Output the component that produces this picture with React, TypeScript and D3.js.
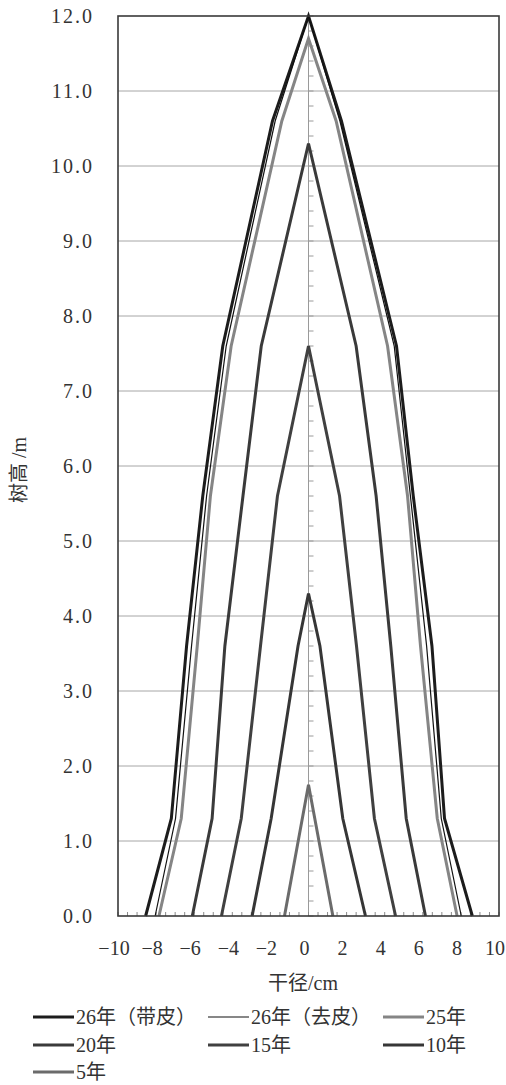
import React from "react";
import * as d3 from "d3";

const seriesNames = ["26年（带皮）", "26年（去皮）", "25年", "20年", "15年", "10年", "5年"];

const h26b = [0, 1.3, 3.6, 5.6, 7.6, 10.6, 12.0, 10.6, 7.6, 5.6, 3.6, 1.3, 0];
const d26b = [-8.55, -7.2, -6.4, -5.55, -4.5, -1.89, 0, 1.73, 4.62, 5.5, 6.48, 7.14, 8.6];

const h26q = [0, 1.3, 3.6, 5.6, 7.6, 10.6, 12.0, 10.6, 7.6, 5.6, 3.6, 1.3, 0];
const d26q = [-8.05, -6.98, -6.14, -5.35, -4.32, -1.75, 0, 1.65, 4.5, 5.35, 6.2, 6.97, 8.02];

const h25 = [0, 1.3, 3.6, 5.6, 7.6, 10.6, 11.7, 10.6, 7.6, 5.6, 3.6, 1.3, 0];
const d25 = [-7.85, -6.68, -5.84, -5.15, -4.06, -1.4, 0, 1.45, 4.15, 5.2, 5.88, 6.76, 7.8];

const h20 = [0, 1.3, 3.6, 5.6, 7.6, 10.3, 7.6, 5.6, 3.6, 1.3, 0];
const d20 = [-6.1, -5.06, -4.39, -3.44, -2.48, 0, 2.5, 3.55, 4.32, 5.13, 6.14];

const h15 = [0, 1.3, 3.6, 5.6, 7.6, 5.6, 3.6, 1.3, 0];
const d15 = [-4.57, -3.53, -2.52, -1.63, 0, 1.63, 2.52, 3.46, 4.57];

const h10 = [0, 1.3, 3.6, 4.3, 3.6, 1.3, 0];
const d10 = [-2.96, -1.96, -0.55, 0, 0.6, 1.8, 2.99];

const h5 = [0, 1.75, 0];
const d5 = [-1.26, 0, 1.28];

const yTicks = [0, 1, 2, 3, 4, 5, 6, 7, 8, 9, 10, 11, 12];
const xTicks = [-10, -8, -6, -4, -2, 0, 2, 4, 6, 8, 10];

const seriesData = [
  { xs: d26b, ys: h26b, color: "#1c1c1c", width: 3 },
  { xs: d26q, ys: h26q, color: "#111111", width: 1.2 },
  { xs: d25, ys: h25, color: "#858585", width: 3 },
  { xs: d20, ys: h20, color: "#3a3a3a", width: 3 },
  { xs: d15, ys: h15, color: "#404040", width: 3 },
  { xs: d10, ys: h10, color: "#363636", width: 3 },
  { xs: d5, ys: h5, color: "#6b6b6b", width: 3 },
];

const W = 506;
const H = 1085;
const L = 118;
const R = 499;
const T = 16;
const B = 916;

const serif = "'Liberation Serif', 'Noto Sans CJK SC', serif";

export default function App() {
  const x = d3.scaleLinear().domain([-10, 10]).range([L, R]);
  const y = d3.scaleLinear().domain([0, 12]).range([B, T]);
  const line = d3
    .line<[number, number]>()
    .x((p) => x(p[0]))
    .y((p) => y(p[1]));

  const xMinor = d3.range(-10, 10.001, 0.5);
  const yMinor = d3.range(0, 12.001, 0.2);

  const legendCols = [33, 208, 383];
  const legendRows = [1017, 1045, 1072];

  return (
    <svg
      width={W}
      height={H}
      style={{ position: "absolute", left: 0, top: 0, background: "#fff" }}
      xmlns="http://www.w3.org/2000/svg"
    >
      <rect x={0} y={0} width={W} height={H} fill="#fff" />
      {/* gridlines */}
      {yTicks.slice(1, -1).map((t) => (
        <line key={"g" + t} x1={L} x2={R} y1={y(t)} y2={y(t)} stroke="#a6a6a6" strokeWidth={1} />
      ))}
      {/* center vertical axis */}
      <line x1={x(0)} x2={x(0)} y1={y(0)} y2={y(12)} stroke="#9a9a9a" strokeWidth={1} />
      {yMinor.map((t, i) => (
        <line key={"ym" + i} x1={x(0)} x2={x(0) + 5} y1={y(t)} y2={y(t)} stroke="#9a9a9a" strokeWidth={1} />
      ))}
      {xMinor.map((t, i) => (
        <line key={"xm" + i} x1={x(t)} x2={x(t)} y1={y(0)} y2={y(0) - 4} stroke="#8a8a8a" strokeWidth={1} />
      ))}
      {/* series */}
      {seriesData.map((s, i) => (
        <path
          key={"s" + i}
          d={line(s.xs.map((v, j) => [v, s.ys[j]] as [number, number])) || ""}
          fill="none"
          stroke={s.color}
          strokeWidth={s.width}
          strokeLinejoin="miter"
        />
      ))}
      {/* plot border */}
      <rect x={L} y={T} width={R - L} height={B - T} fill="none" stroke="#3a3a3a" strokeWidth={1.6} />
      {/* y tick labels */}
      {yTicks.map((t) => (
        <text
          key={"yl" + t}
          x={94}
          y={y(t)}
          textAnchor="end"
          dominantBaseline="central"
          fontFamily={serif}
          fontSize={20}
          letterSpacing={2}
          fill="#333"
        >
          {t.toFixed(1)}
        </text>
      ))}
      {/* x tick labels */}
      {xTicks.map((t) => (
        <text
          key={"xl" + t}
          x={x(t) - 4}
          y={948}
          textAnchor="middle"
          dominantBaseline="central"
          fontFamily={serif}
          fontSize={20}
          fill="#333"
        >
          {t < 0 ? "\u2212" + Math.abs(t) : String(t)}
        </text>
      ))}
      {/* axis titles */}
      <text x={303} y={983} textAnchor="middle" dominantBaseline="central" fontFamily={serif} fontSize={20} fill="#333">
        干径/cm
      </text>
      <text
        transform="translate(19,470) rotate(-90)"
        textAnchor="middle"
        dominantBaseline="central"
        fontFamily={serif}
        fontSize={20}
        fill="#333"
      >
        树高 /m
      </text>
      {/* legend */}
      {seriesNames.map((name, i) => {
        const cx = legendCols[i % 3];
        const cy = legendRows[Math.floor(i / 3)];
        const s = seriesData[i];
        return (
          <g key={"lg" + i}>
            <line x1={cx} x2={cx + 41} y1={cy} y2={cy} stroke={s.color} strokeWidth={s.width} />
            <text x={cx + 43} y={cy} dominantBaseline="central" fontFamily={serif} fontSize={20} fill="#333">
              {name}
            </text>
          </g>
        );
      })}
    </svg>
  );
}
